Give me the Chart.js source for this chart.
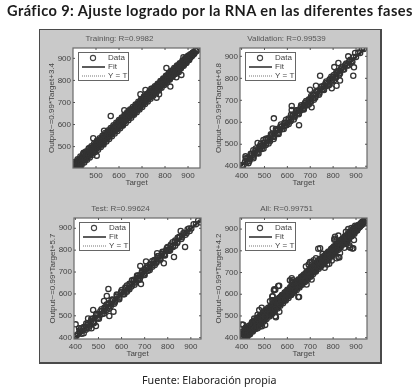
<!DOCTYPE html>
<html><head><meta charset="utf-8">
<script src="https://cdn.jsdelivr.net/npm/chart.js@4"></script>
<style>
html,body{margin:0;padding:0;background:#fff;width:420px;height:389px;overflow:hidden}
#stage{position:relative;width:420px;height:389px;filter:blur(0.35px)}
#panel{position:absolute;left:39px;top:29px;width:340px;height:332px;background:#c9c9c9;border:1px solid #4a4a4a;border-right-width:2px;border-bottom-width:2px}
canvas{position:absolute}
#head{position:absolute;left:7px;top:2px;font:700 14.6px Lato,"Open Sans",sans-serif;white-space:nowrap;color:#1c1c1c;letter-spacing:.42px}
#foot{position:absolute;left:142px;top:373px;font:400 10.7px "Noto Sans",sans-serif;white-space:nowrap;color:#222}
</style></head><body>
<div id="stage">
<div id="panel"></div>
<div id="head">Gráfico 9: Ajuste logrado por la RNA en las diferentes fases</div>
<canvas id="c0" width="195" height="160" style="left:39px;top:28px"></canvas>
<canvas id="c1" width="195" height="160" style="left:206px;top:28px"></canvas>
<canvas id="c2" width="195" height="161" style="left:40px;top:198px"></canvas>
<canvas id="c3" width="195" height="161" style="left:206px;top:198px"></canvas>
<div id="foot">Fuente: Elaboración propia</div>
</div>
<script>
const legendLabels = ["Data", "Fit", "Y = T"];
const panelTitles = ["Training: R=0.9982", "Validation: R=0.99539", "Test: R=0.99624", "All: R=0.99751"];
const yTitles = ["Output~=0.99*Target+3.4", "Output~=0.99*Target+6.8", "Output~=0.99*Target+5.7", "Output~=0.99*Target+4.2"];
const xTitle = "Target";
const ticksFrom500 = [500, 600, 700, 800, 900];
const ticksFrom400 = [400, 500, 600, 700, 800, 900];

const trainTarget = [402,408,410,415,420,424,430,433,438,442,447,451,455,460,464,468,473,477,481,485,490,494,498,502,506,511,515,519,524,528,532,537,541,546,550,554,559,563,568,572,576,581,585,590,594,599,603,608,612,617,621,626,630,635,640,644,649,653,658,662,667,672,676,681,685,690,695,699,704,708,713,718,722,727,732,736,741,746,750,755,760,764,769,774,778,783,788,792,797,802,806,811,816,820,825,830,834,839,844,848,853,858,862,867,872,876,881,886,890,895,900,904,909,914,918,923,928,932,936,941,
 564,623,488,535,503,806,823,871,693,715,774,849,405,446,470,530,660,740,763,860,880,
 405,416,426,437,447,458,468,479,489,500,510,521,531,542,552,563,573,584,594,605,615,626,636,647,657,668,678,689,699,710,720,731,741,752,762,773,783,794,804,815,825,836,846,857,867,878,888,899,909,920,
 411,421,432,442,453,463,474,484,495,505,516,526,537,547,558,568,579,589,600,610,621,631,642,652,663,673,684,694,705,715,726,736,747,757,768,778,789,799,810,820,831,841,852,862,873,883,894,904,915,925,
 408,420,432,444,456,468,480,492,504,516,528,540,552,564,576,588,600,612,624,636,648,660,672,684,696,708,720,732,744,756,768,780,792,804,816,828,840,852,864,876,888,900,
 425,437,449,461,473,485,497,509,521,533,545,557,569,581,593,605,617,629,641,653,665,677,689,701,713,725,737,749,761,773,785,797,809,821,833,845,857,869,881,893,905,
 403,412,421,430,439,448,457,466,475,484,493,502,511,520,529,538,547,556,565,574,583,592,601,610,619,628,637,646,655,664,673,682,691,700,709,718,727,736,745,754,763,772,781,790,799,808,817,826,835,844,853,862,871,880,889,898,
 407,416,425,434,443,452,461,470,479,488,497,506,515,524,533,542,551,560,569,578,587,596,605,614,623,632,641,650,659,668,677,686,695,704,713,722,731,740,749,758,767,776,785,794,803,812,821,830,839,848,857,866,875,884,893,902];
const trainOutput = [405,403,418,410,428,417,425,441,432,452,440,458,448,470,456,476,466,487,474,492,482,503,490,510,499,520,507,527,517,538,526,546,534,556,543,562,552,572,560,580,570,590,578,598,588,606,596,616,605,624,614,634,623,642,632,652,642,660,651,669,660,680,668,689,678,697,688,708,697,716,706,726,715,735,725,744,734,754,743,762,753,772,762,781,771,791,781,800,790,810,799,818,809,828,818,838,827,846,837,856,846,866,855,874,865,884,874,893,884,902,893,911,903,920,912,928,923,936,932,938,
 639,665,538,572,459,856,772,825,737,757,737,814,428,472,492,512,645,762,722,838,905,
 421,432,441,452,462,474,483,494,505,514,526,535,547,556,567,578,588,598,609,619,630,640,650,661,671,681,692,702,713,723,733,744,754,764,775,785,796,806,816,827,836,847,857,867,877,887,897,907,917,926,
 401,408,418,429,439,450,461,471,482,492,503,513,524,534,545,556,567,577,588,598,609,619,630,640,651,661,672,682,693,703,714,724,735,745,756,767,778,788,799,809,820,831,842,852,864,874,886,896,908,919,
 430,443,455,466,478,491,502,514,527,538,549,562,573,584,597,608,621,632,644,656,668,680,691,703,715,727,738,750,762,774,785,797,809,821,832,844,856,868,878,890,902,912,
 405,416,428,440,451,463,475,486,498,510,523,534,547,559,571,583,596,607,620,631,644,656,668,680,693,705,717,730,742,754,767,779,792,804,817,829,842,854,867,879,893,
 408,411,424,429,442,447,460,465,478,483,496,501,514,519,532,537,550,555,568,573,586,591,604,609,622,627,640,645,658,663,676,681,694,699,712,717,730,735,748,753,766,771,784,789,802,807,820,825,838,843,856,861,874,879,892,897,
 418,405,435,425,453,443,471,461,489,479,507,497,525,515,543,533,560,551,578,569,596,587,614,596,632,623,650,641,668,659,686,677,704,695,722,713,740,731,758,749,776,767,794,785,812,803,830,821,848,839,866,857,884,875,902,893];

const valTarget = [402,408,415,422,430,437,445,452,460,466,473,480,487,494,501,508,516,523,531,538,546,553,561,569,576,584,592,600,607,615,623,630,637,644,650,656,661,667,672,678,683,689,694,700,706,712,718,725,732,739,746,753,760,766,772,778,785,792,800,808,816,825,834,843,852,861,870,880,890,900,910,918,926,934,
 541,743,651,888,619,619,536,866,896,891,805,823,830,815,794,699,725,706,470,417,451,495,
 425,443,461,479,497,515,533,551,569,587,605,623,641,659,677,695,713,731,749,767,785,803,821,839,857,875,
 434,452,470,488,506,524,542,560,578,596,614,632,650,668,686,704,722,740,758,776,794,812,830,848,866,884,
 418,440,462,484,506,528,550,572,594,616,638,660,682,704,726,748,770,792,814,836,
 430,452,474,496,518,540,562,584,606,628,650,672,694,716,738,760,782,804,826];
const valOutput = [406,404,421,418,436,433,450,449,467,463,479,477,492,491,507,504,522,520,537,535,552,550,567,566,582,581,598,597,613,612,629,627,644,641,657,653,668,664,679,675,690,686,701,697,713,709,725,722,739,736,753,750,767,763,779,775,792,789,807,805,823,822,841,840,859,858,877,877,897,897,917,915,933,933,
 618,812,587,812,674,656,572,900,915,850,851,870,790,766,755,748,766,668,506,445,473,519,
 438,456,472,491,508,527,544,562,580,598,617,634,652,669,689,705,724,742,761,778,796,815,832,849,867,884,
 424,443,460,479,497,514,533,551,569,586,605,623,641,659,677,695,712,731,749,767,785,803,822,840,858,876,
 436,457,481,502,525,546,569,590,612,634,655,677,697,720,741,763,786,807,829,849,
 414,436,458,481,503,524,547,569,592,613,636,658,681,702,725,747,769,791,814];

const testTarget = [400,405,412,420,428,436,444,452,460,468,476,484,492,500,508,516,524,532,540,548,556,564,572,580,590,600,610,620,630,638,646,654,660,666,672,678,684,690,696,702,708,714,720,727,734,742,750,758,766,775,784,793,802,812,822,832,842,852,862,872,882,892,902,912,922,932,
 543,536,524,477,401,416,875,827,783,706,681,684,565,547,489,455,470,623,754,798,856,941,
 418,436,454,472,490,508,526,544,562,580,598,616,634,652,670,688,706,724,742,760,778,796,814,832,850,868,886,
 427,445,463,481,499,517,535,553,571,589,607,625,643,661,679,697,715,733,751,769,787,805,823,841,859,877,895,
 425,447,469,491,513,535,557,579,601,623,645,667,689,711,733,755,777,799,821,843,
 436,458,480,502,524,546,568,590,612,634,656,678,700,722,744,766,788,810,832];
const testOutput = [410,408,417,427,431,443,443,459,459,475,473,491,489,507,505,523,521,539,537,555,553,571,569,587,587,607,607,627,627,645,643,661,657,673,669,685,681,697,693,709,705,721,717,734,731,749,747,765,763,782,781,800,799,819,819,839,839,859,859,879,879,899,899,919,919,936,
 623,591,568,527,461,443,815,769,740,748,728,645,519,499,453,488,443,610,786,801,888,927,
 433,449,467,485,503,521,538,557,574,593,610,629,646,665,683,700,719,737,755,773,790,809,826,844,861,879,896,
 418,436,454,472,490,508,526,544,562,580,598,616,634,652,670,688,706,724,742,760,778,797,815,833,851,870,888,
 443,465,486,509,530,552,573,597,618,639,662,684,705,728,750,772,793,815,836,857,
 420,443,466,487,510,532,555,576,598,621,642,665,687,709,732,754,776,798,820];

const extraAllTarget = [735,648,560,547,534,611,808,815,874,884,407,502,550,480];
const extraAllOutput = [810,587,638,621,590,664,865,849,815,811,460,497,494,451];

const allTarget = [...trainTarget, ...valTarget, ...testTarget, ...extraAllTarget];
const allOutput = [...trainOutput, ...valOutput, ...testOutput, ...extraAllOutput];

const fitEnds = [[402,940],[398,934],[400,938],[400,938]];
const fitValues = [[401,934],[401,931],[402,934],[400,933]];
const xRanges = [[400,952],[393,948],[394,944],[393,948]];
const yRanges = [[403,947],[392,938],[394,947],[394,951]];
const xTickSets = [ticksFrom500, ticksFrom400, ticksFrom400, ticksFrom400];
const yTickSets = [ticksFrom500, ticksFrom400, ticksFrom400, ticksFrom400];
const targets = [trainTarget, valTarget, testTarget, allTarget];
const outputs = [trainOutput, valOutput, testOutput, allOutput];

const ink = "#444", frame = "#6a6a6a", FONT = "Liberation Sans";

const matlabFrame = {
  id: "matlabFrame",
  beforeDatasetsDraw(c) {
    const a = c.chartArea, x = c.ctx;
    x.save(); x.fillStyle = "#fff"; x.fillRect(a.left, a.top, a.width, a.height); x.restore();
  },
  afterDatasetsDraw(c) {
    const a = c.chartArea, x = c.ctx;
    x.save();
    x.strokeStyle = frame; x.lineWidth = 1.2;
    x.strokeRect(a.left, a.top, a.width, a.height);
    x.lineWidth = 1; x.strokeStyle = "#555";
    x.beginPath();
    c.scales.x.ticks.forEach(t => {
      const p = c.scales.x.getPixelForValue(t.value);
      x.moveTo(p, a.bottom); x.lineTo(p, a.bottom - 2);
      x.moveTo(p, a.top); x.lineTo(p, a.top + 2);
    });
    c.scales.y.ticks.forEach(t => {
      const p = c.scales.y.getPixelForValue(t.value);
      x.moveTo(a.left, p); x.lineTo(a.left + 2, p);
      x.moveTo(a.right, p); x.lineTo(a.right - 2, p);
    });
    x.stroke();
    const L = a.left + 5, T = a.top + 4, W = 50, H = 28;
    x.fillStyle = "#fff"; x.fillRect(L, T, W, H);
    x.strokeStyle = "#666"; x.lineWidth = 1; x.strokeRect(L + .5, T + .5, W, H);
    const rows = [T + 6, T + 15, T + 24];
    x.font = "8px '" + FONT + "'"; x.fillStyle = ink; x.textBaseline = "middle"; x.textAlign = "left";
    legendLabels.forEach((s, i) => x.fillText(s, L + 30, rows[i]));
    x.strokeStyle = "#444"; x.lineWidth = 1.1;
    x.beginPath(); x.arc(L + 15, rows[0], 2.6, 0, 7); x.stroke();
    x.strokeStyle = "#333"; x.lineWidth = 1.6;
    x.beginPath(); x.moveTo(L + 4, rows[1]); x.lineTo(L + 27, rows[1]); x.stroke();
    x.strokeStyle = "#777"; x.lineWidth = 1; x.setLineDash([1, 1]);
    x.beginPath(); x.moveTo(L + 4, rows[2]); x.lineTo(L + 27, rows[2]); x.stroke();
    x.restore();
  }
};

function makeChart(i) {
  new Chart(document.getElementById("c" + i), {
    type: "scatter",
    plugins: [matlabFrame],
    data: {
      datasets: [
        { label: legendLabels[0], data: targets[i].map((t, k) => ({ x: t, y: outputs[i][k] })),
          pointStyle: "circle", pointRadius: 2.6, pointBorderWidth: 1.3, borderColor: "#333", backgroundColor: "transparent" },
        { label: legendLabels[1], data: fitEnds[i].map((t, k) => ({ x: t, y: fitValues[i][k] })),
          showLine: true, pointRadius: 0, borderColor: "#222", borderWidth: 2 },
        { label: legendLabels[2], data: fitEnds[i].map(t => ({ x: t, y: t })),
          showLine: true, pointRadius: 0, borderColor: "#777", borderWidth: 1, borderDash: [1, 1] }
      ]
    },
    options: {
      responsive: false, animation: false,
      layout: { padding: { left: 0, right: 34, top: 0, bottom: 0 } },
      plugins: {
        legend: { display: false }, tooltip: { enabled: false },
        title: { display: true, text: panelTitles[i], color: "#555", font: { family: FONT, size: 8, weight: "normal", lineHeight: 1.2 }, padding: { top: 6, bottom: 4.4 } }
      },
      scales: {
        x: { type: "linear", min: xRanges[i][0], max: xRanges[i][1],
          afterBuildTicks: s => { s.ticks = xTickSets[i].map(v => ({ value: v })); },
          afterFit: s => { s.height = 20; },
          grid: { display: false, drawTicks: false, tickLength: 0 }, border: { display: false },
          ticks: { color: ink, padding: 3, maxRotation: 0, autoSkip: false, font: { family: FONT, size: 8 } },
          title: { display: true, text: xTitle, color: ink, padding: { top: 0, bottom: 0 }, font: { family: FONT, size: 8, lineHeight: 1.2 } } },
        y: { type: "linear", min: yRanges[i][0], max: yRanges[i][1],
          afterBuildTicks: s => { s.ticks = yTickSets[i].map(v => ({ value: v })); },
          afterFit: s => { s.width = 34; },
          grid: { display: false, drawTicks: false, tickLength: 0 }, border: { display: false },
          ticks: { color: ink, padding: 2, autoSkip: false, font: { family: FONT, size: 8 } },
          title: { display: true, text: yTitles[i], color: ink, padding: { top: 8, bottom: 0 }, font: { family: FONT, size: 8, lineHeight: 1.2 } } }
      }
    }
  });
}
[0, 1, 2, 3].forEach(makeChart);
</script>
</body></html>
